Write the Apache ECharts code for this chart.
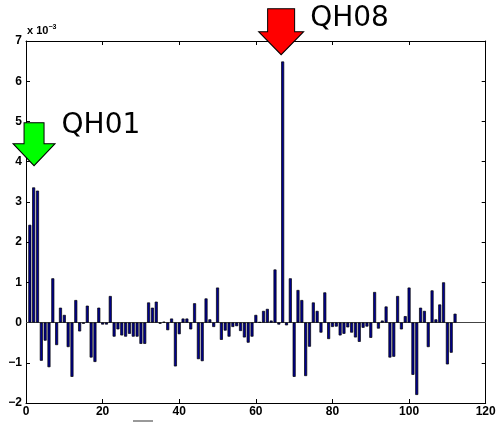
<!DOCTYPE html>
<html>
<head>
<meta charset="utf-8">
<script src="https://cdn.jsdelivr.net/npm/echarts@6/dist/echarts.min.js"></script>
<style>
    html, body { margin: 0; padding: 0; background: #fff; }
    #chart { width: 499px; height: 423px; }
</style>
</head>
<body>
<div id="chart"></div>
<script>
// bar heights, in units of 1e-3, for bins 1..112
const binValues = [
    2.43, 3.36, 3.28, -0.95, -0.45, -1.11, 1.10, -0.56, 0.37, 0.19,
    -0.61, -1.35, 0.56, -0.22, -0.03, 0.42, -0.87, -0.98, 0.37, -0.05,
    -0.05, 0.66, -0.35, -0.17, -0.32, -0.35, -0.28, -0.35, -0.35, -0.53,
    -0.53, 0.50, 0.37, 0.52, -0.03, 0.02, -0.19, 0.10, -1.09, -0.29,
    0.10, 0.10, -0.17, 0.48, -0.91, -0.96, 0.60, 0.08, -0.11, 0.87,
    -0.43, -0.20, -0.35, -0.11, -0.09, -0.21, -0.37, -0.50, -0.35, 0.19,
    0.01, 0.29, 0.34, 0.05, 1.32, -0.05, 6.49, -0.07, 1.10, -1.35,
    0.81, 0.56, -1.33, -0.60, 0.50, 0.29, -0.25, 0.75, -0.41, -0.11,
    -0.10, -0.32, -0.28, -0.12, -0.25, -0.37, -0.48, -0.13, -0.10, -0.38,
    0.76, -0.15, 0.05, 0.40, -0.87, -0.85, 0.66, -0.17, 0.16, 0.87,
    -1.30, -1.80, 0.37, 0.29, -0.61, 0.80, 0.08, 0.45, 1.00, -1.04,
    -0.75, 0.22
];
const xTicks = [0, 20, 40, 60, 80, 100, 120];
const yTicks = [-2, -1, 0, 1, 2, 3, 4, 5, 6, 7];
// arrow annotations: label, tip position [x, y*1e-3]
const markerNames = ['QH01', 'QH08'];
const markerTips = [[2.1, 3.9], [66.6, 6.66]];

const chart = echarts.init(document.getElementById('chart'));

const tickFont = {
    fontFamily: '"Liberation Sans", Arial, sans-serif',
    fontWeight: 700,
    fontSize: 12,
    color: '#000'
};

function minus(v) {
    return String(v).replace('-', '\u2212');
}

// down arrow shapes
const greenArrow = 'path://M11,0L31,0L31,21L42,21L21,43L0,21L11,21Z';
const redArrow = 'path://M9,0L36,0L36,23L45,23L22.5,46L0,23L9,23Z';

chart.setOption({
    animation: false,
    backgroundColor: '#fff',
    grid: {
        left: 26,
        right: 13.3,
        top: 41,
        bottom: 20
    },
    xAxis: [
        {
            type: 'value',
            min: xTicks[0],
            max: xTicks[xTicks.length - 1],
            interval: 20,
            axisLine: { show: true, onZero: false, lineStyle: { color: '#000', width: 1 } },
            axisTick: { show: true, inside: true, length: 4, lineStyle: { color: '#000' } },
            axisLabel: Object.assign({ margin: 3, formatter: minus }, tickFont),
            splitLine: { show: false }
        },
        {
            // top box edge
            type: 'value',
            position: 'top',
            min: xTicks[0],
            max: xTicks[xTicks.length - 1],
            interval: 20,
            axisLine: { show: true, onZero: false, lineStyle: { color: '#000', width: 1 } },
            axisTick: { show: true, inside: true, length: 4, lineStyle: { color: '#000' } },
            axisLabel: { show: false },
            splitLine: { show: false }
        }
    ],
    yAxis: [
        {
            type: 'value',
            min: yTicks[0],
            max: yTicks[yTicks.length - 1],
            interval: 1,
            axisLine: { show: true, onZero: false, lineStyle: { color: '#000', width: 1 } },
            axisTick: { show: true, inside: true, length: 4, lineStyle: { color: '#000' } },
            axisLabel: Object.assign({ margin: 4, formatter: minus }, tickFont),
            splitLine: { show: false }
        },
        {
            // right box edge
            type: 'value',
            position: 'right',
            min: yTicks[0],
            max: yTicks[yTicks.length - 1],
            interval: 1,
            axisLine: { show: true, onZero: false, lineStyle: { color: '#000', width: 1 } },
            axisTick: { show: true, inside: true, length: 4, lineStyle: { color: '#000' } },
            axisLabel: { show: false },
            splitLine: { show: false }
        }
    ],
    series: [
        {
            type: 'bar',
            data: binValues.map((v, i) => [i + 1, v]),
            barWidth: 3,
            itemStyle: {
                color: '#00008F',
                borderColor: '#000',
                borderWidth: 0.7
            },
            // baseline at zero
            markLine: {
                silent: true,
                symbol: 'none',
                label: { show: false },
                lineStyle: { color: '#444', width: 1.2, type: 'solid' },
                data: [{ yAxis: 0 }],
                z: 1
            },
            markPoint: {
                silent: true,
                data: markerTips.map((tip, k) => ({
                    name: markerNames[k],
                    coord: tip,
                    symbol: k === 0 ? greenArrow : redArrow,
                    symbolSize: k === 0 ? [42, 43] : [45, 46],
                    symbolKeepAspect: false,
                    symbolOffset: [0, '-50%'],
                    itemStyle: {
                        color: k === 0 ? '#00FF00' : '#FF0000',
                        borderColor: '#000',
                        borderWidth: 1
                    },
                    label: {
                        show: true,
                        position: 'right',
                        distance: 6,
                        offset: k === 0 ? [0, -18] : [0, -13],
                        formatter: markerNames[k],
                        fontFamily: 'DejaVu Sans',
                        fontSize: 28,
                        color: '#000'
                    }
                }))
            }
        }
    ],
    graphic: [
        {
            type: 'text',
            left: 27,
            top: 24,
            style: {
                text: 'x 10{sup|\u22123}',
                fontFamily: '"Liberation Sans", Arial, sans-serif',
                fontWeight: 700,
                fontSize: 11,
                fill: '#000',
                rich: {
                    sup: {
                        fontFamily: '"Liberation Sans", Arial, sans-serif',
                        fontSize: 7,
                        fontWeight: 700,
                        verticalAlign: 'top',
                        padding: [0, 0, 6, 0]
                    }
                }
            }
        },
        {
            // clipped x-label stub at the bottom edge
            type: 'rect',
            shape: { x: 133, y: 420, width: 20, height: 2 },
            style: { fill: '#999' }
        }
    ]
});
</script>
</body>
</html>
